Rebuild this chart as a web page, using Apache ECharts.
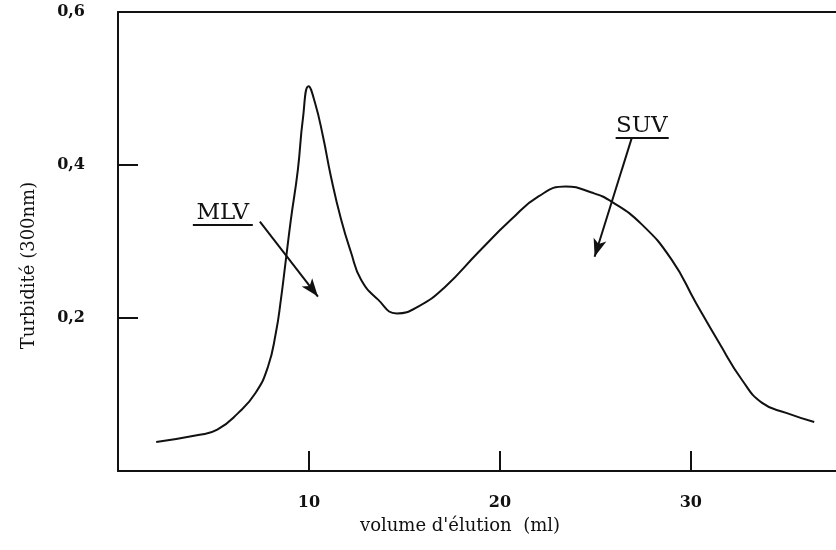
<!DOCTYPE html>
<html style="height: 100%">

<head>
  <meta charset="utf-8">
  <title>Turbidité</title>
</head>

<body style="height: 100%; margin: 0; background: #fff">
  <div id="container" style="width: 836px; height: 550px"></div>
  <script type="text/javascript" src="https://cdn.jsdelivr.net/npm/echarts@6/dist/echarts.min.js"></script>
  <script type="text/javascript">
    // volume d'élution (ml)
    const volume = [2.0, 4.2, 5.2, 6.3, 7.2, 7.85, 8.27, 8.53, 8.79, 9.05, 9.42, 9.68, 9.98,
      10.31, 10.73, 11.15, 11.68, 12.2, 12.73, 13.62, 14.6, 15.72, 17.14, 18.87, 20.6,
      22.02, 23.44, 24.8, 25.85, 27.4, 29.0, 30.26, 31.47, 32.68, 33.73, 34.99, 36.46];
    // turbidité (300nm)
    const turbidite = [0.038, 0.047, 0.054, 0.076, 0.102, 0.136, 0.181, 0.224, 0.276, 0.328, 0.394, 0.46, 0.503,
      0.482, 0.438, 0.385, 0.329, 0.286, 0.25, 0.224, 0.206, 0.215, 0.241, 0.286, 0.329,
      0.359, 0.372, 0.364, 0.352, 0.323, 0.276, 0.22, 0.168, 0.119, 0.089, 0.076, 0.064];
    // étiquettes: [texte, x, y, flèche départ x, y, flèche fin x, y, soulignement x0, x1, y]
    const labels = [
      ['MLV', 5.49, 0.337, 7.43, 0.326, 10.47, 0.228, 3.92, 7.06, 0.322],
      ['SUV', 27.43, 0.451, 26.9, 0.435, 24.96, 0.28, 26.06, 28.84, 0.435]
    ];

    let chart = echarts.init(document.getElementById('container'));

    const serif = 'DejaVu Serif';
    const lineData = [];
    const pointData = [];
    labels.forEach(l => {
      lineData.push([{ coord: [l[3], l[4]], symbol: 'none' }, { coord: [l[5], l[6]], symbol: 'arrow' }]);
      lineData.push([{ coord: [l[7], l[9]], symbol: 'none' }, { coord: [l[8], l[9]], symbol: 'none' }]);
      pointData.push({ coord: [l[1], l[2]], value: l[0] });
    });

    let option = {
      animation: false,
      grid: { left: 118, right: 0, top: 12, bottom: 79 },
      xAxis: [{
        type: 'value',
        min: 0,
        max: 37.6,
        interval: 10,
        name: "volume d'élution  (ml)",
        nameLocation: 'middle',
        nameGap: 46,
        nameTextStyle: { fontFamily: serif, fontSize: 18, color: '#111', padding: [0, 34, 0, 0] },
        axisLine: { lineStyle: { color: '#111', width: 2 } },
        axisTick: { inside: true, length: 20, lineStyle: { color: '#111', width: 2 } },
        axisLabel: {
          showMaxLabel: false, margin: 24, color: '#111', fontFamily: serif, fontWeight: 'bold', fontSize: 16,
          formatter: v => v === 0 ? '' : String(v)
        },
        splitLine: { show: false }
      }, {
        type: 'value',
        position: 'top',
        min: 0,
        max: 37.6,
        axisLine: { lineStyle: { color: '#111', width: 2 } },
        axisTick: { show: false },
        axisLabel: { show: false },
        splitLine: { show: false }
      }],
      yAxis: {
        type: 'value',
        min: 0,
        max: 0.6,
        interval: 0.2,
        name: 'Turbidité (300nm)',
        nameLocation: 'middle',
        nameRotate: 90,
        nameGap: 80,
        nameTextStyle: { fontFamily: serif, fontSize: 18, color: '#111', padding: [0, 48, 0, 0] },
        axisLine: { lineStyle: { color: '#111', width: 2 } },
        axisTick: { inside: true, length: 20, lineStyle: { color: '#111', width: 2 } },
        axisLabel: {
          showMinLabel: false, margin: 33, color: '#111', fontFamily: serif, fontWeight: 'bold', fontSize: 16,
          formatter: v => v.toFixed(1).replace('.', ',')
        },
        splitLine: { show: false }
      },
      series: [{
        type: 'line',
        data: volume.map((v, i) => [v, turbidite[i]]),
        smooth: 0.5,
        showSymbol: false,
        lineStyle: { color: '#111', width: 2 },
        markLine: {
          silent: true,
          symbolSize: [10, 18],
          label: { show: false },
          lineStyle: { color: '#111', width: 2, type: 'solid' },
          data: lineData
        },
        markPoint: {
          silent: true,
          symbol: 'circle',
          symbolSize: 0,
          label: {
            show: true, position: 'inside', color: '#111', fontFamily: serif, fontSize: 23,
            formatter: p => p.value
          },
          data: pointData
        }
      }]
    };

    chart.setOption(option);
  </script>
</body>

</html>
